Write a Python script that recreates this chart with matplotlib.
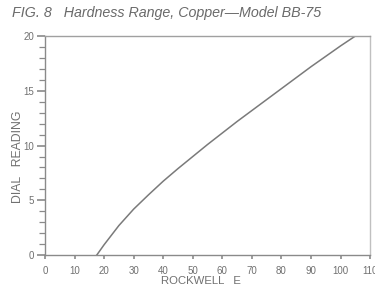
import matplotlib
matplotlib.use("Agg")
import matplotlib.pyplot as plt
from matplotlib.ticker import MultipleLocator

rockwell_e = [17.5, 20, 25, 30, 35, 40, 45, 50, 55, 60, 65, 70, 75, 80, 85, 90, 95, 100, 105]
dial_reading = [0.0, 0.95, 2.7, 4.2, 5.5, 6.75, 7.9, 9.0, 10.1, 11.15, 12.2, 13.2, 14.2, 15.2, 16.2, 17.2, 18.15, 19.1, 20.0]

x_ticks = [0, 10, 20, 30, 40, 50, 60, 70, 80, 90, 100, 110]
y_ticks = [0, 5, 10, 15, 20]

gray = "#8a8a8a"
text_gray = "#707070"

plt.rcParams['font.family'] = ['Liberation Sans', 'DejaVu Sans']

fig = plt.figure(figsize=(3.75, 2.86), dpi=100)
ax = fig.add_axes([0.12, 0.108, 0.867, 0.766])

ax.plot(rockwell_e, dial_reading, color="#7a7a7a", lw=1.1)

ax.set_xlim(0, 110)
ax.set_ylim(0, 20)
ax.set_xticks(x_ticks)
ax.set_yticks(y_ticks)
ax.yaxis.set_minor_locator(MultipleLocator(1))

for s in ax.spines.values():
    s.set_color("#a0a0a0")
    s.set_linewidth(1.0)
ax.spines['left'].set_color(gray)
ax.spines['bottom'].set_color(gray)
ax.spines['right'].set_color("#c0c0c0")

ax.tick_params(axis='both', which='major', direction='out', colors=gray,
               labelcolor=text_gray, labelsize=7, width=1.2)
ax.tick_params(axis='y', which='major', length=6, pad=2)
ax.tick_params(axis='x', which='major', length=3, pad=5)
ax.tick_params(axis='y', which='minor', direction='out', length=4, width=0.9, colors=gray)

ax.set_xlabel("ROCKWELL   E", color=text_gray, fontsize=8.2)
ax.set_ylabel("DIAL   READING", color=text_gray, fontsize=8.8)
ax.xaxis.label.set_va('center')
ax.yaxis.label.set_va('center')
ax.xaxis.set_label_coords(0.48, -0.118)
ax.yaxis.set_label_coords(-0.083, 0.447)

fig.text(0.032, 0.955, "FIG. 8   Hardness Range, Copper\u2014Model BB-75",
         fontsize=10.3, style='italic', color="#6a6a6a", ha='left', va='center')

fig.savefig("out.png", dpi=100, facecolor="white")
